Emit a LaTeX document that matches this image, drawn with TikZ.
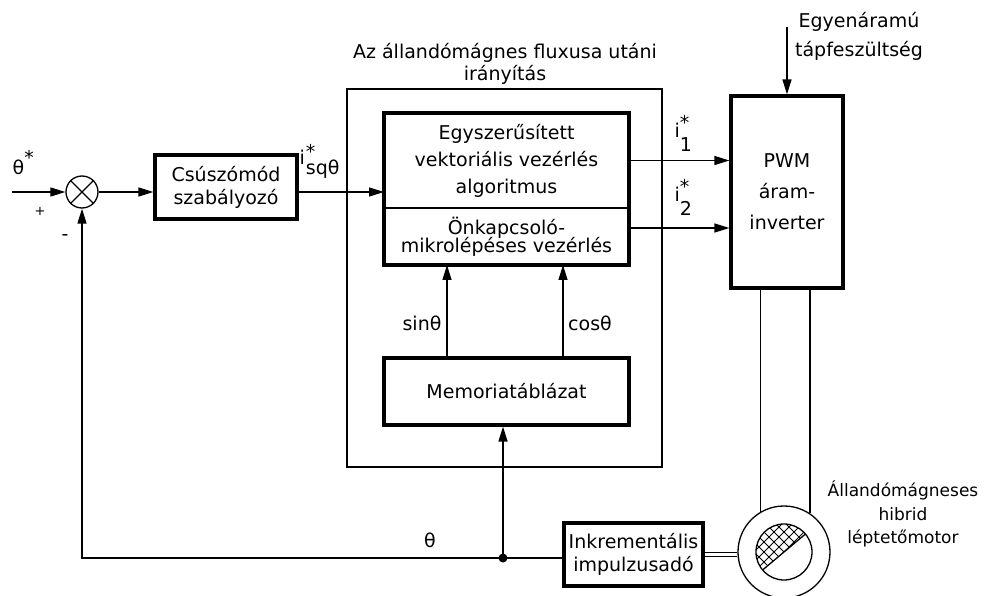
\documentclass[tikz,border=0pt]{standalone}
\usepackage{fontspec}
\setmainfont{DejaVu Sans}
\usetikzlibrary{arrows.meta,calc}
\begin{document}
\begin{tikzpicture}[x=1pt,y=-1pt,line width=1.3pt,
  txt/.style={inner sep=0pt, align=center, font={\fontsize{19}{23}\selectfont}},
  blk/.style={txt, draw, rectangle, line width=3.2pt},
  arr/.style={line width=1.3pt, -{Triangle[length=15pt,width=9pt]}},
  hatch/.style={line width=1pt}]
\useasboundingbox (0,0) rectangle (986,596);

% outer frame and title
\node[draw, minimum width=315, minimum height=378, inner sep=0pt] (frame) at (504.5,278) {};
\node[txt, font={\fontsize{19}{22}\selectfont}] (title) at (505,64) {Az állandómágnes fluxusa utáni\\irányítás};

% blocks
\node[circle, draw, minimum size=32, inner sep=0pt] (sum) at (82,192) {};
\draw (sum.north west) -- (sum.south east) (sum.north east) -- (sum.south west);
\node[blk, minimum width=142, minimum height=64] (csm) at (226,187) {Csúszómód\\szabályozó};
\node[txt, minimum width=245, minimum height=95, outer sep=0pt, font={\fontsize{19}{27}\selectfont}] (alg1) at (506.5,160.5) {Egyszerűsített\\vektoriális vezérlés\\algoritmus};
\node[txt, minimum width=245, minimum height=57, outer sep=0pt, font={\fontsize{19}{18}\selectfont\lineskiplimit=-30pt}] (alg2) at (506.5,236.5) {Önkapcsoló-\\mikrolépéses vezérlés};
\draw[line width=3.2pt] (alg1.north west) rectangle (alg2.south east);
\draw (alg1.south west) -- (alg1.south east);
\node[blk, minimum width=245, minimum height=67] (mem) at (506.5,391.5) {Memoriatáblázat};
\node[blk, minimum width=112, minimum height=192, font={\fontsize{19}{31}\selectfont}] (pwm) at (787,192) {PWM\\áram-\\inverter};
\node[blk, minimum width=139, minimum height=63] (ink) at (633.5,554.5) {Inkrementális\\impulzusadó};

% motor
\node[circle, draw, minimum size=92, inner sep=0pt] (motor) at (784,552) {};
\node[circle, minimum size=56, inner sep=0pt, outer sep=0pt] (rotor) at (motor.center) {};
\begin{scope}
  \clip (rotor.center) circle (28);
  \clip (rotor.220) -- (rotor.40) -- ($(rotor.40)+(-39,-46)$) -- ($(rotor.220)+(-39,-46)$) -- cycle;
  \foreach \k in {-6,...,6} {
    \draw[hatch] ($(rotor.center)+(\k*10-45,-45)$) -- ++(90,90);
    \draw[hatch] ($(rotor.center)+(\k*10-45,45)$) -- ++(90,-90);
  }
\end{scope}
\draw (rotor.center) circle (28);
\draw (rotor.220) -- (rotor.40);

% texts
\node[txt, font={\fontsize{19}{29}\selectfont}] (suptxt) at (859,36) {Egyenáramú\\tápfeszültség};
\node[txt, font={\fontsize{17}{23.5}\selectfont}] (mtxt) at (903,514) {Állandómágneses\\hibrid\\léptetőmotor};
\node[txt, anchor=base west] (th0) at (12,175) {θ\raisebox{10pt}{*}};
\node[txt, font={\fontsize{13}{14}\selectfont}] (plus) at (40,211) {+};
\node[txt] (minus) at (65,238) {-};
\node[txt, anchor=base west] (isq) at (299,165) {i\kern1pt\rlap{\raisebox{6pt}{*}}\raisebox{-10pt}{sqθ}};
\node[txt, anchor=base west] (i1) at (674,138) {i\rlap{\raisebox{8pt}{*}}\raisebox{-14pt}{1}};
\node[txt, anchor=base west] (i2) at (674,202) {i\rlap{\raisebox{8pt}{*}}\raisebox{-14pt}{2}};
\node[txt] (sinl) at (422,323) {sinθ};
\node[txt] (cosl) at (590,323) {cosθ};
\node[txt] (thl) at (430,540) {θ};

% coordinates
\coordinate (in) at (12,192);
\coordinate (sup) at (787,27);
\coordinate (dot) at (503,558);
\coordinate (xs) at (447,0);
\coordinate (xc) at (563,0);
\coordinate (o2) at (629,228);

% connectors
\draw[arr] (in) -- (sum.west);
\draw[arr] (sum.east) -- (csm.west |- sum.center);
\draw[arr] (csm.east |- sum.center) -- (alg1.west |- sum.center);
\draw[arr] (alg1.east) -- (alg1.east -| pwm.west);
\draw[arr] (o2) -- (o2 -| pwm.west);
\draw[arr] (sup) -- (pwm.north);
\draw[arr] (mem.north -| xs) -- (alg2.south -| xs);
\draw[arr] (mem.north -| xc) -- (alg2.south -| xc);
\draw[arr] (ink.west |- dot) -| (sum.south);
\draw[arr] (dot) -- (dot |- mem.south);
\fill (dot) circle (4.5);
\draw (motor.120) -- (motor.120 |- pwm.south);
\draw (motor.56) -- (motor.56 |- pwm.south);
\draw[double, double distance=3.5pt, line width=1pt] (ink.east) -- (ink.east -| motor.west);
\end{tikzpicture}
\end{document}
